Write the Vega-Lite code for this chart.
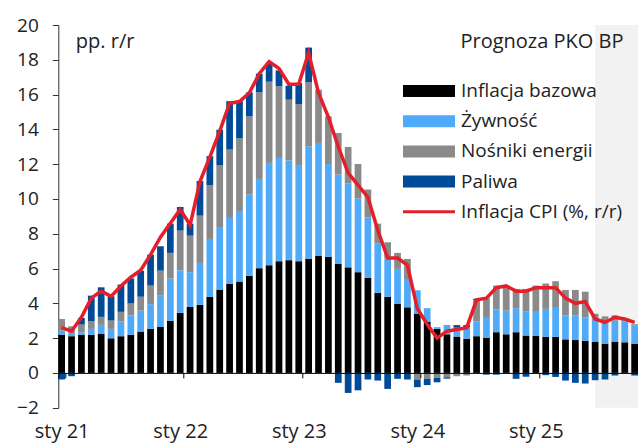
{
  "$schema": "https://vega.github.io/schema/vega-lite/v6.json",
  "width": 579.7,
  "height": 382.7,
  "autosize": {"type": "none"},
  "padding": {"left": 58.3, "top": 25, "right": 0, "bottom": 36.3},
  "background": "white",
  "config": {
    "view": {"stroke": null},
    "font": "Open Sans",
    "axisX": {"domainColor": "#000", "domainWidth": 1, "tickColor": "#000", "tickSize": 5, "labelAngle": 0, "labelFontSize": 20, "labelColor": "#222", "labelPadding": 44, "labelBaseline": "top", "grid": false,
      "titleX": 564.7, "titleY": -325.9, "titleAlign": "right", "titleBaseline": "alphabetic", "titleFontSize": 20, "titleFontWeight": "normal", "titleColor": "#222"},
    "axisY": {"domainColor": "#333", "tickColor": "#333", "tickSize": 6, "labelColor": "#222", "labelFontSize": 19, "labelPadding": 14, "labelOverlap": false, "tickCount": 30, "gridColor": "#d4d4d4", "gridDash": [2, 2], "gridWidth": 1,
      "titleAngle": 0, "titleX": 17, "titleY": 22, "titleAlign": "left", "titleBaseline": "alphabetic", "titleFontSize": 20, "titleFontWeight": "normal", "titleColor": "#222"}
  },
  "data": {"values": [
    {"m": "2021-01", "core": 2.20, "food": 0.23, "home_energy": 0.67, "motor_fuel": -0.38, "cpi": 2.6},
    {"m": "2021-02", "core": 2.11, "food": 0.19, "home_energy": 0.38, "motor_fuel": -0.19, "cpi": 2.4},
    {"m": "2021-03", "core": 2.20, "food": 0.14, "home_energy": 0.44, "motor_fuel": 0.38, "cpi": 3.2},
    {"m": "2021-04", "core": 2.20, "food": 0.33, "home_energy": 0.44, "motor_fuel": 1.47, "cpi": 4.3},
    {"m": "2021-05", "core": 2.26, "food": 0.50, "home_energy": 0.46, "motor_fuel": 1.70, "cpi": 4.7},
    {"m": "2021-06", "core": 1.99, "food": 0.54, "home_energy": 0.48, "motor_fuel": 1.40, "cpi": 4.4},
    {"m": "2021-07", "core": 2.11, "food": 0.84, "home_energy": 0.56, "motor_fuel": 1.57, "cpi": 5.0},
    {"m": "2021-08", "core": 2.20, "food": 1.10, "home_energy": 0.69, "motor_fuel": 1.44, "cpi": 5.5},
    {"m": "2021-09", "core": 2.38, "food": 1.20, "home_energy": 0.80, "motor_fuel": 1.49, "cpi": 5.9},
    {"m": "2021-10", "core": 2.53, "food": 1.42, "home_energy": 1.07, "motor_fuel": 1.78, "cpi": 6.8},
    {"m": "2021-11", "core": 2.64, "food": 1.80, "home_energy": 1.44, "motor_fuel": 1.40, "cpi": 7.8},
    {"m": "2021-12", "core": 2.99, "food": 2.43, "home_energy": 1.48, "motor_fuel": 1.68, "cpi": 8.6},
    {"m": "2022-01", "core": 3.45, "food": 2.45, "home_energy": 2.28, "motor_fuel": 1.36, "cpi": 9.4},
    {"m": "2022-02", "core": 3.79, "food": 2.00, "home_energy": 2.10, "motor_fuel": 0.69, "cpi": 8.5},
    {"m": "2022-03", "core": 3.91, "food": 2.41, "home_energy": 2.72, "motor_fuel": 1.99, "cpi": 11.0},
    {"m": "2022-04", "core": 4.37, "food": 3.33, "home_energy": 3.09, "motor_fuel": 1.67, "cpi": 12.4},
    {"m": "2022-05", "core": 4.79, "food": 3.60, "home_energy": 3.54, "motor_fuel": 2.05, "cpi": 13.9},
    {"m": "2022-06", "core": 5.11, "food": 3.80, "home_energy": 3.93, "motor_fuel": 2.78, "cpi": 15.5},
    {"m": "2022-07", "core": 5.25, "food": 4.06, "home_energy": 4.18, "motor_fuel": 2.13, "cpi": 15.6},
    {"m": "2022-08", "core": 5.59, "food": 4.66, "home_energy": 4.50, "motor_fuel": 1.38, "cpi": 16.1},
    {"m": "2022-09", "core": 6.02, "food": 5.13, "home_energy": 4.98, "motor_fuel": 1.07, "cpi": 17.2},
    {"m": "2022-10", "core": 6.19, "food": 5.88, "home_energy": 4.67, "motor_fuel": 1.08, "cpi": 17.9},
    {"m": "2022-11", "core": 6.42, "food": 5.94, "home_energy": 4.12, "motor_fuel": 0.91, "cpi": 17.5},
    {"m": "2022-12", "core": 6.48, "food": 5.74, "home_energy": 3.49, "motor_fuel": 0.80, "cpi": 16.6},
    {"m": "2023-01", "core": 6.42, "food": 5.53, "home_energy": 3.51, "motor_fuel": 1.21, "cpi": 16.6},
    {"m": "2023-02", "core": 6.57, "food": 6.46, "home_energy": 3.69, "motor_fuel": 1.98, "cpi": 18.4},
    {"m": "2023-03", "core": 6.72, "food": 6.50, "home_energy": 3.06, "motor_fuel": 0.0, "cpi": 16.1},
    {"m": "2023-04", "core": 6.67, "food": 5.34, "home_energy": 2.74, "motor_fuel": 0.0, "cpi": 14.7},
    {"m": "2023-05", "core": 6.28, "food": 5.12, "home_energy": 2.39, "motor_fuel": -0.57, "cpi": 13.0},
    {"m": "2023-06", "core": 6.07, "food": 4.81, "home_energy": 2.11, "motor_fuel": -1.15, "cpi": 11.5},
    {"m": "2023-07", "core": 5.79, "food": 4.23, "home_energy": 1.99, "motor_fuel": -1.00, "cpi": 10.8},
    {"m": "2023-08", "core": 5.46, "food": 3.47, "home_energy": 1.61, "motor_fuel": -0.38, "cpi": 10.1},
    {"m": "2023-09", "core": 4.60, "food": 2.83, "home_energy": 1.15, "motor_fuel": -0.44, "cpi": 8.2},
    {"m": "2023-10", "core": 4.37, "food": 2.20, "home_energy": 0.94, "motor_fuel": -0.92, "cpi": 6.6},
    {"m": "2023-11", "core": 3.98, "food": 2.00, "home_energy": 0.92, "motor_fuel": -0.34, "cpi": 6.6},
    {"m": "2023-12", "core": 3.77, "food": 1.63, "home_energy": 1.15, "motor_fuel": -0.38, "cpi": 6.2},
    {"m": "2024-01", "core": 3.39, "food": 1.36, "home_energy": -0.38, "motor_fuel": -0.44, "cpi": 3.7},
    {"m": "2024-02", "core": 2.93, "food": 0.79, "home_energy": -0.34, "motor_fuel": -0.36, "cpi": 2.8},
    {"m": "2024-03", "core": 2.53, "food": 0.10, "home_energy": -0.29, "motor_fuel": -0.25, "cpi": 2.0},
    {"m": "2024-04", "core": 2.22, "food": 0.54, "home_energy": -0.25, "motor_fuel": -0.08, "cpi": 2.4},
    {"m": "2024-05", "core": 2.09, "food": 0.51, "home_energy": -0.19, "motor_fuel": 0.15, "cpi": 2.5},
    {"m": "2024-06", "core": 1.97, "food": 0.65, "home_energy": -0.15, "motor_fuel": 0.13, "cpi": 2.6},
    {"m": "2024-07", "core": 2.11, "food": 0.86, "home_energy": 1.21, "motor_fuel": 0.08, "cpi": 4.2},
    {"m": "2024-08", "core": 2.03, "food": 1.13, "home_energy": 1.13, "motor_fuel": -0.10, "cpi": 4.3},
    {"m": "2024-09", "core": 2.34, "food": 1.30, "home_energy": 1.38, "motor_fuel": -0.10, "cpi": 4.9},
    {"m": "2024-10", "core": 2.22, "food": 1.36, "home_energy": 1.44, "motor_fuel": -0.02, "cpi": 5.0},
    {"m": "2024-11", "core": 2.34, "food": 1.38, "home_energy": 1.11, "motor_fuel": -0.34, "cpi": 4.7},
    {"m": "2024-12", "core": 2.15, "food": 1.37, "home_energy": 1.31, "motor_fuel": -0.22, "cpi": 4.7},
    {"m": "2025-01", "core": 2.12, "food": 1.44, "home_energy": 1.46, "motor_fuel": -0.03, "cpi": 4.9},
    {"m": "2025-02", "core": 2.07, "food": 1.61, "home_energy": 1.46, "motor_fuel": -0.13, "cpi": 4.9},
    {"m": "2025-03", "core": 2.07, "food": 1.72, "home_energy": 1.48, "motor_fuel": -0.23, "cpi": 4.9},
    {"m": "2025-04", "core": 1.93, "food": 1.38, "home_energy": 1.46, "motor_fuel": -0.44, "cpi": 4.3},
    {"m": "2025-05", "core": 1.89, "food": 1.42, "home_energy": 1.46, "motor_fuel": -0.57, "cpi": 4.0},
    {"m": "2025-06", "core": 1.85, "food": 1.33, "home_energy": 1.49, "motor_fuel": -0.61, "cpi": 4.1},
    {"m": "2025-07", "core": 1.80, "food": 1.34, "home_energy": 0.26, "motor_fuel": -0.42, "cpi": 3.1},
    {"m": "2025-08", "core": 1.68, "food": 1.15, "home_energy": 0.42, "motor_fuel": -0.38, "cpi": 2.9},
    {"m": "2025-09", "core": 1.80, "food": 1.20, "home_energy": 0.31, "motor_fuel": -0.15, "cpi": 3.2},
    {"m": "2025-10", "core": 1.76, "food": 1.19, "home_energy": 0.17, "motor_fuel": -0.02, "cpi": 3.1},
    {"m": "2025-11", "core": 1.68, "food": 1.04, "home_energy": 0.08, "motor_fuel": -0.15, "cpi": 2.9}
  ]},
  "layer": [
    {
      "data": {"values": [{"s": "2025-07", "e": "2025-11"}]},
      "mark": {"type": "rect", "color": "#000", "opacity": 0.05},
      "encoding": {
        "x": {"field": "s", "type": "ordinal", "bandPosition": 0.5, "axis": {"title": "Prognoza PKO BP"}},
        "x2": {"field": "e", "bandPosition": 1},
        "y": {"datum": -2, "type": "quantitative", "axis": {"title": "pp. r/r", "labelOverlap": false, "tickCount": 30}},
        "y2": {"datum": 20}
      }
    },
    {
      "transform": [{"fold": ["core", "food", "home_energy", "motor_fuel"], "as": ["k", "v"]}],
      "mark": {"type": "bar"},
      "encoding": {
        "x": {
          "field": "m", "type": "ordinal",
          "scale": {"paddingInner": 0.32, "paddingOuter": 0},
          "axis": {
            "title": "Prognoza PKO BP",
            "values": ["2021-01", "2022-01", "2023-01", "2024-01", "2025-01"],
            "labelExpr": "datum.value ? 'sty ' + substring(datum.value, 2, 4) : ''",
            "tickBand": "extent",
            "tickExtra": false,
            "offset": -34.8
          }
        },
        "y": {
          "field": "v", "type": "quantitative", "stack": "zero",
          "scale": {"domain": [-2, 20], "nice": false},
          "axis": {
            "values": [-2, 0, 2, 4, 6, 8, 10, 12, 14, 16, 18, 20],
            "tickCount": 30,
            "labelOverlap": false,
            "title": "pp. r/r"
          }
        },
        "order": {"field": "k", "sort": "ascending"},
        "color": {
          "field": "k", "type": "nominal",
          "scale": {"domain": ["core", "food", "home_energy", "motor_fuel", "cpi"], "range": ["#000000", "#4FAAF9", "#8A8A8A", "#004B98", "#E41E2B"]},
          "legend": {
            "orient": "none", "legendX": 344.7, "legendY": 51, "title": null, "padding": 0,
            "symbolType": "M-1,-0.23H1V0.23H-1Z", "symbolSize": 2704,
            "labelFontSize": 19, "labelColor": "#222", "labelOffset": 6, "labelLimit": 300,
            "clipHeight": 30, "rowPadding": 0.2,
            "labelExpr": "{'core': 'Inflacja bazowa', 'food': 'Żywność', 'home_energy': 'Nośniki energii', 'motor_fuel': 'Paliwa', 'cpi': 'Inflacja CPI (%, r/r)'}[datum.label]",
            "encode": {
              "symbols": {
                "update": {
                  "shape": {"signal": "datum.value === 'cpi' ? 'M-1,-0.06H1V0.06H-1Z' : 'M-1,-0.23H1V0.23H-1Z'"},
                  "fill": {"signal": "scale('color', datum.value)"},
                  "strokeWidth": {"value": 0},
                  "opacity": {"value": 1}
                }
              }
            }
          }
        }
      }
    },
    {
      "mark": {"type": "line", "strokeWidth": 3.5},
      "encoding": {
        "x": {"field": "m", "type": "ordinal", "axis": {"title": "Prognoza PKO BP"}},
        "y": {"field": "cpi", "type": "quantitative", "axis": {"title": "pp. r/r", "labelOverlap": false, "tickCount": 30}},
        "color": {"datum": "cpi", "type": "nominal"}
      }
    }
  ]
}
